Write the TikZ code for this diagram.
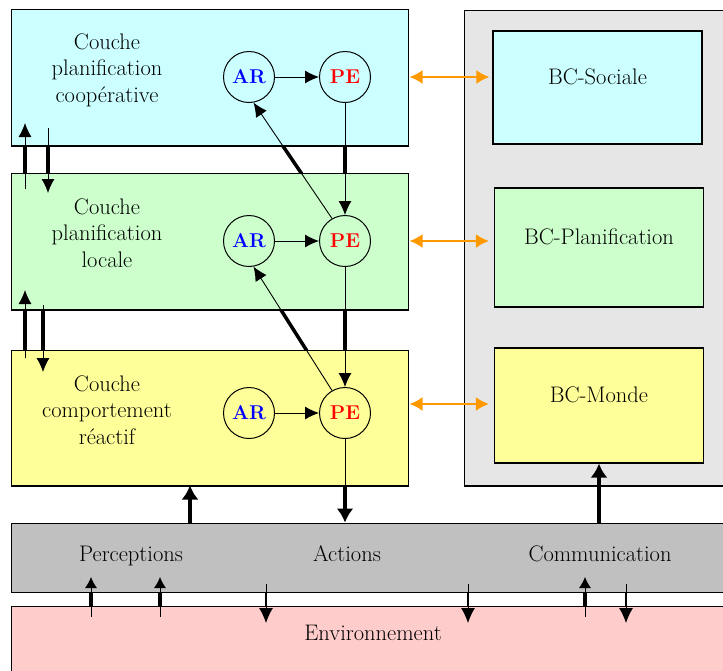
\documentclass[tikz,border=0pt]{standalone}
\usetikzlibrary{arrows.meta}
\definecolor{cyanc}{HTML}{CCFFFF}
\definecolor{vertc}{HTML}{CCFFCC}
\definecolor{jaunec}{HTML}{FFFF99}
\definecolor{grisc}{HTML}{C0C0C0}
\definecolor{rosec}{HTML}{FFCCCC}
\definecolor{panneauc}{HTML}{E6E6E6}
\definecolor{orangec}{HTML}{FF9900}
\begin{document}
\begin{tikzpicture}[x=1pt,y=-1pt,line width=0.9pt,
    >={Latex[length=14pt,width=13pt]},
    couche/.style={draw,line width=1pt,minimum width=397pt,inner sep=0pt},
    bc/.style={draw,line width=1.2pt,minimum width=209pt,inner sep=0pt},
    etat/.style={draw,circle,line width=1pt,minimum size=51pt,inner sep=0pt,font=\fontsize{20}{24}\selectfont\bfseries},
    txt/.style={align=center,font=\fontsize{22.5}{26.5}\selectfont},
    barretxt/.style={txt,text height=15pt,text depth=4.5pt},
    gros/.style={line width=3.5pt},
    moyen/.style={line width=2pt},
    grand/.style={>={Latex[length=14pt,width=17pt]}},
    lien/.style={draw=orangec,line width=2pt,<->,>={Latex[length=13pt,width=14pt]}}]
\clip (0,0) rectangle (723,670);
% panneau des bases de connaissances
\node[draw,fill=panneauc,line width=1pt,minimum width=266pt,minimum height=475pt] (panneau) at (597,247.5) {};
\draw[line width=2pt] (panneau.south west) -- (panneau.south east);
% couches
\node[couche,fill=cyanc,minimum height=136pt] (coop) at (209.5,77) {};
\node[couche,fill=vertc,minimum height=136pt] (loc) at (209.5,241) {};
\node[couche,fill=jaunec,minimum height=135pt] (react) at (209.5,417.5) {};
\foreach \c in {coop,loc,react}
  \draw[line width=2pt] (\c.south west) -- (\c.south east);
\node[txt] (tcoop) at (107,70) {Couche\\planification\\coopérative};
\node[txt] (tloc) at (107,233) {Couche\\planification\\locale};
\node[txt] (treact) at (107,410) {Couche\\comportement\\réactif};
% bases
\node[bc,fill=cyanc,minimum height=113pt] (soc) at (597.5,87.5) {};
\node[bc,fill=vertc,minimum height=119pt] (plan) at (599,247.5) {};
\node[bc,fill=jaunec,minimum height=115pt] (monde) at (599,405.5) {};
\node[txt] (tsoc) at (597.5,77) {BC-Sociale};
\node[txt] (tplan) at (599,237) {BC-Planification};
\node[txt] (tmonde) at (599,395) {BC-Monde};
% barre et environnement
\node[draw,fill=grisc,line width=1pt,minimum width=719pt,minimum height=69pt] (barre) at (370.5,557.5) {};
\node[draw,fill=rosec,line width=1pt,minimum width=719pt,minimum height=84pt] (env) at (370.5,648) {};
\node[barretxt] (perc) at (131,556) {Perceptions};
\node[barretxt] (act) at (347,556) {Actions};
\node[barretxt] (comm) at (600,556) {Communication};
\node[barretxt] (tenv) at (373,635) {Environnement};
% AR et PE
\node[etat,text=blue] (ar1) at (249,77) {AR};
\node[etat,text=red] (pe1) at (345,77) {PE};
\node[etat,text=blue] (ar2) at (249,241) {AR};
\node[etat,text=red] (pe2) at (345,241) {PE};
\node[etat,text=blue] (ar3) at (249,413) {AR};
\node[etat,text=red] (pe3) at (345,413) {PE};
\draw[->] (ar1) -- (pe1);
\draw[->] (ar2) -- (pe2);
\draw[->] (ar3) -- (pe3);
\draw[->] (pe1) -- (pe2);
\draw[->] (pe2) -- (pe3);
\draw[->] (pe2.120) -- (ar1.280);
\draw[->] (pe3.120) -- (ar2.280);
% fleches a gauche
\coordinate (g1a) at (25,189); \coordinate (g1b) at (25,123);
\coordinate (g1c) at (48,128); \coordinate (g1d) at (48,193);
\coordinate (g2a) at (25,358); \coordinate (g2b) at (25,290);
\coordinate (g2c) at (43,305); \coordinate (g2d) at (43,372);
\draw[->] (g1a) -- (g1b);
\draw[->] (g1c) -- (g1d);
\draw[->] (g2a) -- (g2b);
\draw[->] (g2c) -- (g2d);
% parties epaisses entre les couches
\begin{scope}
  \clip (0,145) rectangle (460,173);
  \draw[gros] (pe1) -- (pe2);
  \draw[gros] (pe2.120) -- (ar1.280);
  \draw[gros] (g1a) -- (g1b);
  \draw[gros] (g1c) -- (g1d);
\end{scope}
\begin{scope}
  \clip (0,309) rectangle (460,350);
  \draw[gros] (pe2) -- (pe3);
  \draw[gros] (pe3.120) -- (ar2.280);
  \draw[gros] (g2a) -- (g2b);
  \draw[gros] (g2c) -- (g2d);
\end{scope}
% vers la barre
\coordinate (p0) at (190,523);
\draw[gros,grand,->] (p0) -- (p0 |- react.south);
\draw (pe3) -- (pe3 |- react.south);
\draw[gros,grand,->] (pe3 |- react.south) -- (pe3 |- barre.north);
\draw[gros,grand,->] (monde.south |- barre.north) -- (monde.south);
% liens avec les bases
\draw[lien,shorten <=1pt,shorten >=3pt] (coop.east) -- (coop.east -| soc.west);
\draw[lien,shorten <=1pt,shorten >=5pt] (loc.east) -- (loc.east -| plan.west);
\draw[lien,shorten <=1pt,shorten >=5pt] ([yshift=13.5pt]react.east) -- ([yshift=13.5pt]react.east -| monde.west);
% fleches entre barre et environnement
\foreach \x/\n in {91/a,160/b,585/c}{
  \coordinate (h\n) at (\x,617); \coordinate (k\n) at (\x,577);
  \draw[->,>={Latex[length=11pt,width=12pt]}] (h\n) -- (k\n);
}
\foreach \x/\n in {266/d,468/e,626/f}{
  \coordinate (h\n) at (\x,584); \coordinate (k\n) at (\x,623);
  \draw[->,>={Latex[length=15pt,width=14pt]}] (h\n) -- (k\n);
}
\begin{scope}
  \clip (0,592) rectangle (723,605);
  \foreach \n in {a,b,c} \draw[gros] (h\n) -- (k\n);
  \foreach \n in {d,e,f} \draw[moyen] (h\n) -- (k\n);
\end{scope}
\end{tikzpicture}
\end{document}
